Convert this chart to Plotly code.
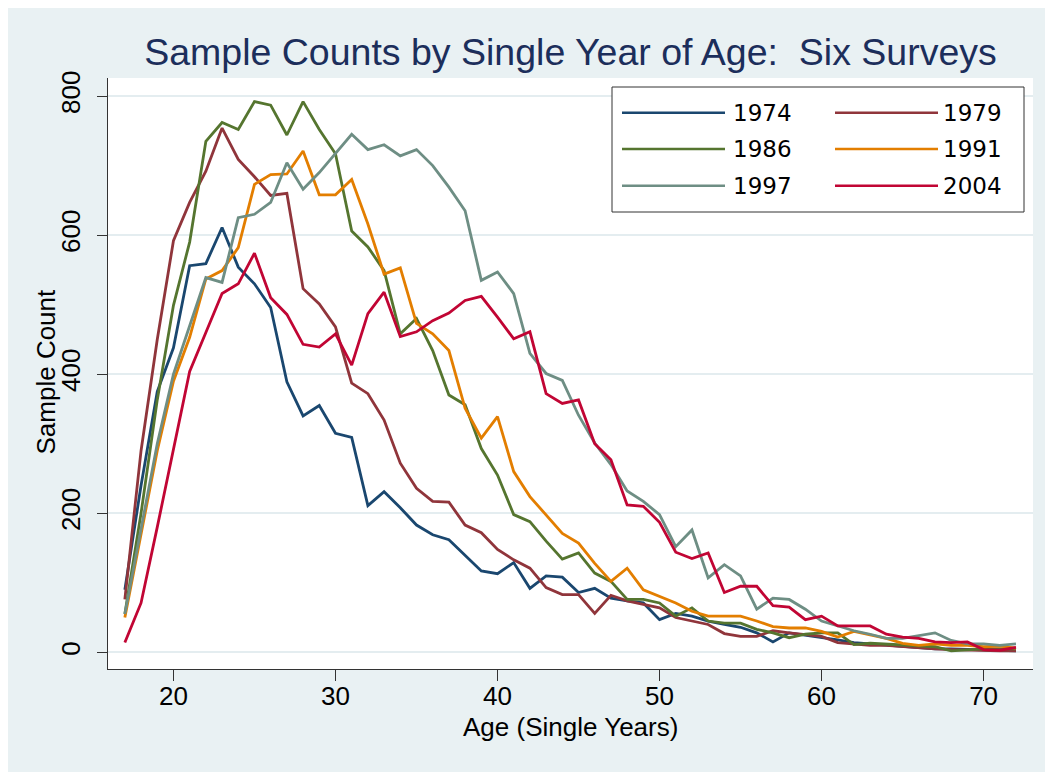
import plotly.graph_objects as go

ages = list(range(17, 73))

y1974 = [90, 240, 375, 438, 556, 559, 611, 554, 530, 496, 389, 340, 355, 315, 309, 211, 231, 208, 183, 169,
         162, 140, 117, 113, 129, 92, 110, 108, 86, 92, 78, 74, 71, 47, 56, 52, 45, 40, 36, 28,
         15, 28, 25, 22, 18, 14, 12, 10, 8, 7, 5, 5, 4, 3, 3, 2]
y1979 = [76, 290, 450, 592, 647, 692, 754, 709, 684, 657, 660, 523, 501, 468, 387, 372, 334, 272, 236, 217,
         216, 183, 172, 148, 133, 121, 93, 83, 83, 56, 82, 74, 69, 64, 50, 45, 40, 27, 23, 23,
         31, 28, 26, 23, 14, 12, 10, 10, 8, 6, 5, 4, 3, 3, 2, 2]
y1986 = [55, 200, 363, 499, 590, 735, 762, 752, 792, 787, 744, 792, 752, 717, 606, 583, 549, 458, 480, 434,
         370, 356, 293, 255, 198, 188, 160, 134, 143, 114, 102, 76, 76, 71, 52, 64, 45, 42, 42, 33,
         28, 21, 26, 28, 28, 11, 13, 12, 10, 9, 8, 2, 4, 5, 5, 5]
y1991 = [50, 170, 290, 390, 453, 537, 549, 582, 673, 687, 688, 721, 658, 658, 680, 616, 544, 553, 473, 458,
         434, 351, 308, 339, 260, 224, 198, 171, 157, 128, 102, 121, 90, 81, 71, 59, 52, 52, 52, 45,
         37, 35, 35, 30, 22, 30, 25, 20, 13, 10, 12, 10, 10, 8, 9, 6]
y1997 = [55, 175, 300, 400, 468, 539, 532, 625, 630, 647, 704, 666, 690, 717, 745, 723, 730, 714, 723, 700,
         669, 635, 535, 547, 516, 430, 401, 391, 341, 301, 270, 232, 217, 198, 152, 176, 107, 126, 110, 62,
         78, 76, 62, 45, 38, 31, 26, 20, 20, 24, 28, 17, 12, 12, 10, 12]
y2004 = [14, 71, 180, 292, 404, 460, 516, 530, 574, 510, 486, 443, 439, 458, 413, 487, 518, 454, 461, 477,
         488, 506, 512, 482, 451, 461, 372, 358, 363, 300, 277, 212, 210, 187, 144, 135, 143, 86, 95, 95,
         67, 65, 47, 52, 38, 38, 38, 26, 22, 20, 15, 14, 15, 4, 3, 7]

series_names = ["1974", "1979", "1986", "1991", "1997", "2004"]
series_values = [y1974, y1979, y1986, y1991, y1997, y2004]
colors = ["#1A476F", "#90353B", "#55752F", "#E37E00", "#6E8E84", "#C10534"]

x_ticks = [20, 30, 40, 50, 60, 70]
y_ticks = [0, 200, 400, 600, 800]

OFF = 8  # page offset of the figure (body margin)
W, H = 1045, 764
ML, MR, MT, MB = 100, 20, 70, 103
PW, PH = W - ML - MR, H - MT - MB
BG = "#E9F1F3"
FONT = "Liberation Sans, Arial, sans-serif"


def px(xp):
    return (xp - OFF - ML) / PW


def py(yp):
    return (H - MB - (yp - OFF)) / PH


fig = go.Figure()
for name, vals, col in zip(series_names, series_values, colors):
    fig.add_trace(go.Scatter(x=ages, y=vals, mode="lines", name=name,
                             line=dict(color=col, width=2.8), showlegend=False))

shapes = [
    dict(type="rect", xref="paper", yref="paper", x0=px(612), x1=px(1024), y0=py(87), y1=py(212),
         fillcolor="white", line=dict(color="#333333", width=1)),
]
annotations = []
rows = [112.7, 149, 185.7]
cols = [(622, 725, 731), (835, 938, 941)]
for i, (name, col) in enumerate(zip(series_names, colors)):
    r, c = divmod(i, 2)
    x0, x1, xt = cols[c]
    yy = py(rows[r])
    shapes.append(dict(type="line", xref="paper", yref="paper", x0=px(x0), x1=px(x1), y0=yy, y1=yy,
                       line=dict(color=col, width=2.5)))
    annotations.append(dict(xref="paper", yref="paper", x=px(xt), y=yy, text=name, showarrow=False,
                            xanchor="left", yanchor="middle",
                            font=dict(family="DejaVu Sans, sans-serif", size=23, color="black")))

# axis titles
annotations.append(dict(xref="paper", yref="paper", x=px(570), y=py(727), text="Age (Single Years)",
                        showarrow=False, xanchor="center", yanchor="middle",
                        font=dict(family=FONT, size=26, color="black")))
annotations.append(dict(xref="paper", yref="paper", x=px(45), y=py(371.5), text="Sample Count",
                        textangle=-90, showarrow=False, xanchor="center", yanchor="middle",
                        font=dict(family=FONT, size=26, color="black")))

fig.update_layout(
    width=W, height=H,
    margin=dict(l=ML, r=MR, t=MT, b=MB, pad=0),
    paper_bgcolor=BG, plot_bgcolor="white",
    font=dict(family=FONT, color="black", size=26),
    title=dict(text="Sample Counts by Single Year of Age:\u00a0 Six Surveys",
               x=px(570.5), xref="paper", xanchor="center",
               y=1 - (52 - OFF) / H, yref="container", yanchor="middle",
               font=dict(family=FONT, size=37.5, color="#1C2E5B")),
    shapes=shapes, annotations=annotations,
    showlegend=False,
)
fig.update_xaxes(range=[15.96, 73.05], tickvals=x_ticks, ticks="outside", ticklen=11, tickwidth=1.2,
                 tickcolor="#333333", showline=True, linecolor="#333333", linewidth=1.2,
                 showgrid=False, zeroline=False, ticklabelstandoff=-7,
                 tickfont=dict(size=26))
fig.update_yaxes(range=[-24, 826], tickvals=y_ticks, ticks="outside", ticklen=10, tickwidth=1.2,
                 tickcolor="#333333", showline=True, linecolor="#333333", linewidth=1.2,
                 showgrid=True, gridcolor="#E4EDF0", gridwidth=2, zeroline=False,
                 tickangle=-90, ticklabelstandoff=7,
                 tickfont=dict(size=26))

fig.write_html("out.html")
